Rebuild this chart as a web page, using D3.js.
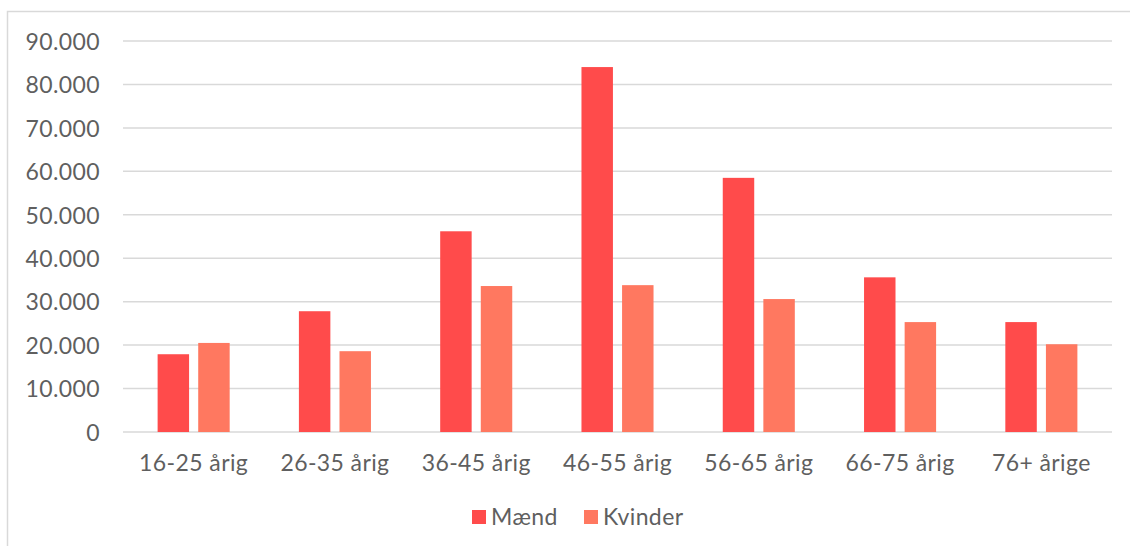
<!DOCTYPE html>
<html>
<head>
<meta charset="utf-8">
<script src="https://cdn.jsdelivr.net/npm/d3@7"></script>
<style>
  body { margin: 0; background: #fff; }
  svg text { font-family: Lato, "Noto Sans", sans-serif; fill: #5f5f5f; letter-spacing: 0.4px; }
</style>
</head>
<body>
<div id="chart"></div>
<script>
'use strict';

// Data
var categories = ['16-25 årig', '26-35 årig', '36-45 årig', '46-55 årig', '56-65 årig', '66-75 årig', '76+ årige'];
var seriesNames = ['Mænd', 'Kvinder'];
var maend = [17900, 27800, 46200, 84000, 58500, 35600, 25300];
var kvinder = [20500, 18600, 33600, 33800, 30600, 25300, 20200];
var yTicks = [0, 10000, 20000, 30000, 40000, 50000, 60000, 70000, 80000, 90000];
var colors = ['#ff4b4b', '#ff7860'];

var width = 1130, height = 546;
var margin = { top: 41, right: 18, bottom: 114, left: 123 };

var svg = d3.select('#chart').append('svg')
  .attr('width', width)
  .attr('height', height);

// Light frame round the chart (top and left edges visible)
svg.append('path')
  .attr('d', 'M7.5,' + height + 'V11.5H' + width)
  .attr('fill', 'none')
  .attr('stroke', '#d9d9d9')
  .attr('stroke-width', 1.5);

var rows = categories.map(function(c, i) {
  return { cat: c, values: [maend[i], kvinder[i]] };
});

var x0 = d3.scaleBand()
  .domain(categories)
  .range([margin.left, width - margin.right])
  .padding(0);

var x1 = d3.scaleBand()
  .domain(seriesNames)
  .range([x0.bandwidth() * 0.245, x0.bandwidth() * 0.755])
  .paddingInner(0.225);

var y = d3.scaleLinear()
  .domain([0, 90000])
  .range([height - margin.bottom, margin.top]);

var fmt = function(v) { return d3.format(',')(v).replace(/,/g, '.'); };

// Gridlines
svg.append('g')
  .selectAll('line')
  .data(yTicks)
  .join('line')
  .attr('x1', margin.left)
  .attr('x2', width - margin.right)
  .attr('y1', function(d) { return y(d); })
  .attr('y2', function(d) { return y(d); })
  .attr('stroke', '#d9d9d9')
  .attr('stroke-width', 1.5);

// Y axis labels
var yAxis = svg.append('g')
  .attr('transform', 'translate(' + (margin.left - 23) + ',0)')
  .call(d3.axisLeft(y).tickValues(yTicks).tickFormat(fmt).tickSize(0).tickPadding(0));
yAxis.select('.domain').remove();
yAxis.selectAll('text')
  .style('font-size', '23px')
  .attr('dy', '0.36em');

// Bars
svg.append('g')
  .selectAll('g')
  .data(rows)
  .join('g')
  .attr('transform', function(d) { return 'translate(' + x0(d.cat) + ',0)'; })
  .selectAll('rect')
  .data(function(d) { return d.values.map(function(v, i) { return { key: seriesNames[i], value: v, i: i }; }); })
  .join('rect')
  .attr('x', function(d) { return x1(d.key); })
  .attr('width', x1.bandwidth())
  .attr('y', function(d) { return y(d.value); })
  .attr('height', function(d) { return y(0) - y(d.value); })
  .attr('fill', function(d) { return colors[d.i]; });

// X axis labels
var xAxis = svg.append('g')
  .attr('transform', 'translate(0,' + (height - margin.bottom) + ')')
  .call(d3.axisBottom(x0).tickSize(0).tickPadding(23));
xAxis.select('.domain').remove();
xAxis.selectAll('text')
  .style('font-size', '23px');

// Legend
var legendX = [472, 584];
var legend = svg.append('g')
  .selectAll('g')
  .data(seriesNames)
  .join('g')
  .attr('transform', function(d, i) { return 'translate(' + legendX[i] + ',510)'; });
legend.append('rect')
  .attr('width', 14)
  .attr('height', 14)
  .attr('fill', function(d, i) { return colors[i]; });
legend.append('text')
  .attr('x', 19)
  .attr('y', 14.5)
  .style('font-size', '23px')
  .text(function(d) { return d; });
</script>
</body>
</html>
